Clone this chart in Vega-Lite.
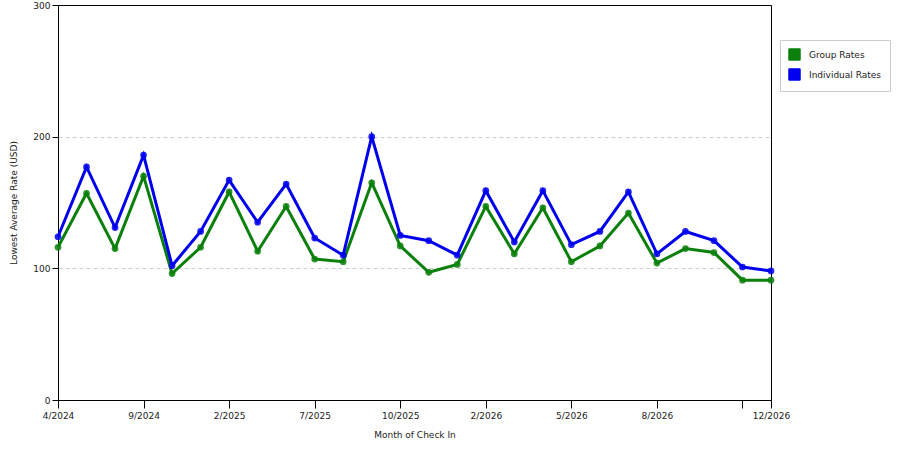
{
  "$schema": "https://vega.github.io/schema/vega-lite/v6.json",
  "autosize": "none",
  "width": 713,
  "height": 395,
  "padding": {"left": 58, "top": 5, "right": 129, "bottom": 50},
  "background": "white",
  "config": {
    "font": "DejaVu Sans",
    "view": {"stroke": "black", "strokeWidth": 1},
    "axis": {
      "labelFont": "DejaVu Sans",
      "titleFont": "DejaVu Sans",
      "labelFontSize": 9,
      "titleFontSize": 9,
      "titleFontWeight": "normal",
      "labelColor": "#222",
      "titleColor": "#222",
      "domainColor": "black",
      "tickColor": "black"
    },
    "legend": {
      "labelFont": "DejaVu Sans",
      "labelFontSize": 9,
      "labelColor": "#222"
    }
  },
  "data": {
    "values": [
      {"month": "4/2024", "series": "Group Rates", "rate": 116},
      {"month": "6/2024", "series": "Group Rates", "rate": 157},
      {"month": "7/2024", "series": "Group Rates", "rate": 115},
      {"month": "9/2024", "series": "Group Rates", "rate": 170},
      {"month": "10/2024", "series": "Group Rates", "rate": 96},
      {"month": "12/2024", "series": "Group Rates", "rate": 116},
      {"month": "2/2025", "series": "Group Rates", "rate": 158},
      {"month": "4/2025", "series": "Group Rates", "rate": 113},
      {"month": "5/2025", "series": "Group Rates", "rate": 147},
      {"month": "7/2025", "series": "Group Rates", "rate": 107},
      {"month": "8/2025", "series": "Group Rates", "rate": 105},
      {"month": "9/2025", "series": "Group Rates", "rate": 165},
      {"month": "10/2025", "series": "Group Rates", "rate": 117},
      {"month": "11/2025", "series": "Group Rates", "rate": 97},
      {"month": "1/2026", "series": "Group Rates", "rate": 103},
      {"month": "2/2026", "series": "Group Rates", "rate": 147},
      {"month": "3/2026", "series": "Group Rates", "rate": 111},
      {"month": "4/2026", "series": "Group Rates", "rate": 146},
      {"month": "5/2026", "series": "Group Rates", "rate": 105},
      {"month": "6/2026", "series": "Group Rates", "rate": 117},
      {"month": "7/2026", "series": "Group Rates", "rate": 142},
      {"month": "8/2026", "series": "Group Rates", "rate": 104},
      {"month": "9/2026", "series": "Group Rates", "rate": 115},
      {"month": "10/2026", "series": "Group Rates", "rate": 112},
      {"month": "11/2026", "series": "Group Rates", "rate": 91},
      {"month": "12/2026", "series": "Group Rates", "rate": 91},
      {"month": "4/2024", "series": "Individual Rates", "rate": 124},
      {"month": "6/2024", "series": "Individual Rates", "rate": 177},
      {"month": "7/2024", "series": "Individual Rates", "rate": 131},
      {"month": "9/2024", "series": "Individual Rates", "rate": 186},
      {"month": "10/2024", "series": "Individual Rates", "rate": 102},
      {"month": "12/2024", "series": "Individual Rates", "rate": 128},
      {"month": "2/2025", "series": "Individual Rates", "rate": 167},
      {"month": "4/2025", "series": "Individual Rates", "rate": 135},
      {"month": "5/2025", "series": "Individual Rates", "rate": 164},
      {"month": "7/2025", "series": "Individual Rates", "rate": 123},
      {"month": "8/2025", "series": "Individual Rates", "rate": 110},
      {"month": "9/2025", "series": "Individual Rates", "rate": 200},
      {"month": "10/2025", "series": "Individual Rates", "rate": 125},
      {"month": "11/2025", "series": "Individual Rates", "rate": 121},
      {"month": "1/2026", "series": "Individual Rates", "rate": 110},
      {"month": "2/2026", "series": "Individual Rates", "rate": 159},
      {"month": "3/2026", "series": "Individual Rates", "rate": 120},
      {"month": "4/2026", "series": "Individual Rates", "rate": 159},
      {"month": "5/2026", "series": "Individual Rates", "rate": 118},
      {"month": "6/2026", "series": "Individual Rates", "rate": 128},
      {"month": "7/2026", "series": "Individual Rates", "rate": 158},
      {"month": "8/2026", "series": "Individual Rates", "rate": 111},
      {"month": "9/2026", "series": "Individual Rates", "rate": 128},
      {"month": "10/2026", "series": "Individual Rates", "rate": 121},
      {"month": "11/2026", "series": "Individual Rates", "rate": 101},
      {"month": "12/2026", "series": "Individual Rates", "rate": 98}
    ]
  },
  "encoding": {
    "x": {
      "field": "month",
      "type": "ordinal",
      "sort": null,
      "scale": {"type": "point", "padding": 0},
      "axis": {
        "title": "Month of Check In",
        "titlePadding": 10,
        "labelAngle": 0,
        "tickSize": 8,
        "labelPadding": 3,
        "values": ["4/2024", "9/2024", "2/2025", "7/2025", "10/2025", "2/2026", "5/2026", "8/2026", "11/2026", "12/2026"],
        "labelExpr": "datum.value == '11/2026' ? '' : datum.value",
        "grid": false
      }
    },
    "y": {
      "field": "rate",
      "type": "quantitative",
      "scale": {"domain": [0, 300], "nice": false},
      "axis": {
        "title": "Lowest Average Rate (USD)",
        "values": [0, 100, 200, 300],
        "tickSize": 6,
        "labelPadding": 2,
        "titlePadding": 14,
        "grid": true,
        "gridDash": [4, 3],
        "gridColor": "#cccccc",
        "gridOpacity": {"condition": {"test": "datum.value == 0 || datum.value == 300", "value": 0}, "value": 1}
      }
    },
    "color": {
      "field": "series",
      "type": "nominal",
      "scale": {"domain": ["Group Rates", "Individual Rates"], "range": ["#0c800c", "#0000ee"]},
      "legend": {
        "title": null,
        "orient": "none",
        "legendX": 722,
        "legendY": 35,
        "symbolType": "square",
        "symbolSize": 130,
        "symbolOpacity": 1,
        "symbolStrokeColor": "#222",
        "symbolStrokeWidth": 1,
        "strokeColor": "#cccccc",
        "fillColor": "white",
        "padding": 8,
        "rowPadding": 3,
        "labelOffset": 8
      }
    }
  },
  "layer": [
    {
      "mark": {"type": "line", "strokeWidth": 3}
    },
    {
      "mark": {"type": "point", "filled": true, "size": 45, "opacity": 0.85}
    }
  ]
}
